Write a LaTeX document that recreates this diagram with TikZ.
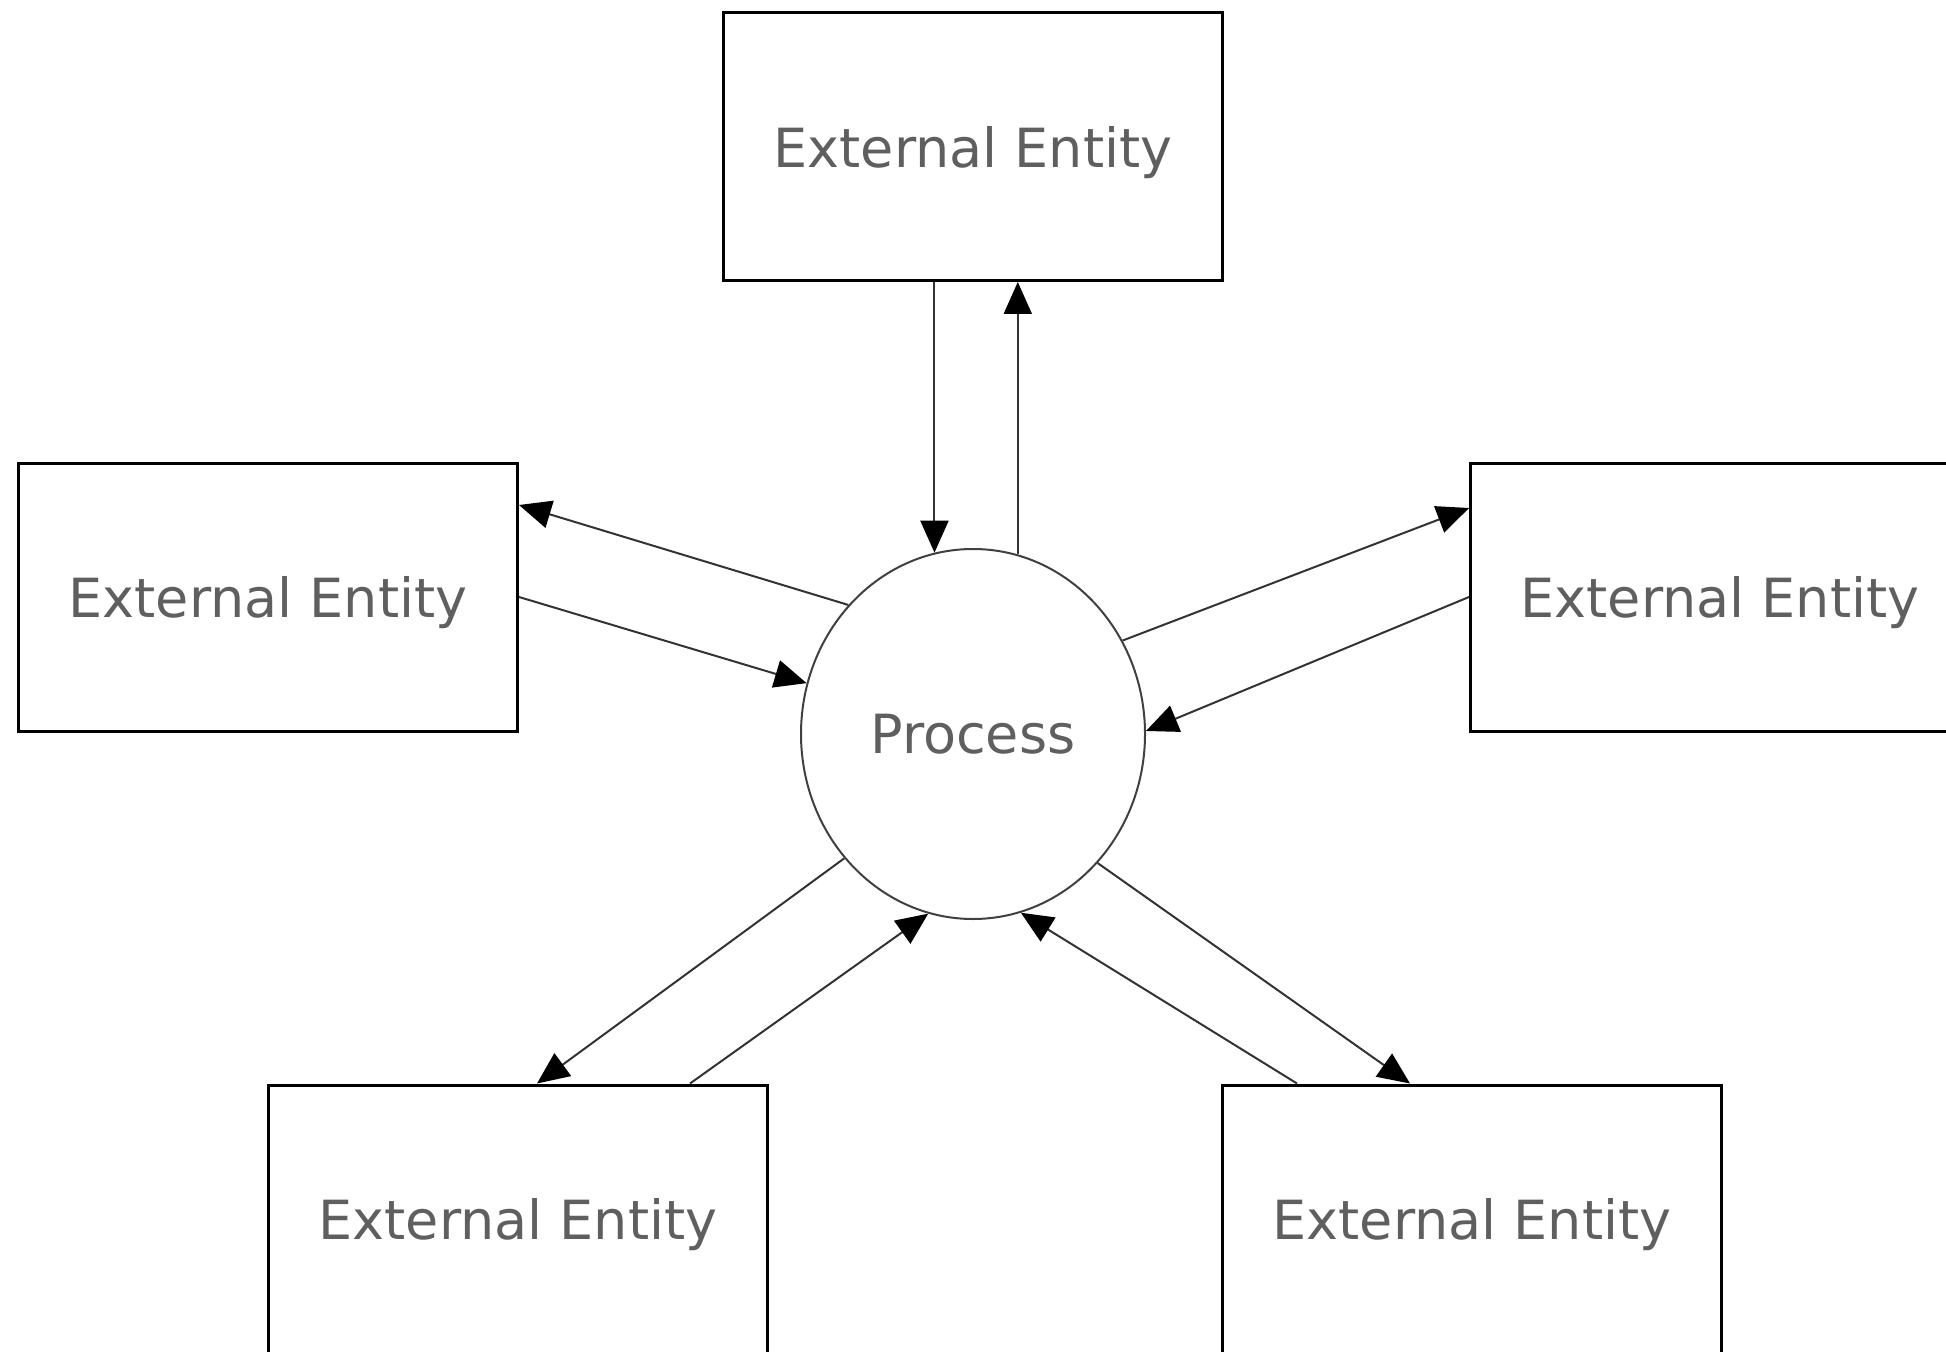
\documentclass[tikz,border=0pt]{standalone}
\usepackage{fontspec}
\setmainfont{DejaVu Sans}
\usepackage{xcolor}
\usepackage{tikz}
\usetikzlibrary{arrows.meta, shapes.geometric}
\definecolor{labelgray}{HTML}{5F5F5F}

\begin{document}
\begin{tikzpicture}[x=0.5pt, y=-0.5pt,
    entity/.style={rectangle, draw, line width=1.5pt, minimum width=249.5pt, minimum height=134pt, inner sep=0pt, text depth=0pt, text=labelgray, font=\fontsize{27}{32}\selectfont},
    process/.style={ellipse, draw=black!75, line width=1pt, minimum width=172pt, minimum height=185pt, inner sep=0pt, text=labelgray, font=\fontsize{27}{32}\selectfont},
    flow/.style={-{Triangle[length=16pt, width=14pt, color=black]}, line width=1pt, draw=black!80}]
    \useasboundingbox (0,0) rectangle (1946,1352);
    \clip (0,0) rectangle (1946,1352);

    \node[process] (proc) at (973,734) {Process};
    \node[entity] (top) at (973,146.5) {External Entity};
    \node[entity] (left) at (268,597) {External Entity};
    \node[entity] (right) at (1720,597) {External Entity};
    \node[entity] (bl) at (518,1219) {External Entity};
    \node[entity] (br) at (1472,1219) {External Entity};

    \draw[flow] (top.south -| proc.102) -- (proc.102);
    \draw[flow] (proc.76) -- (proc.76 |- top.south);
    \draw[flow] (proc.134) -- ([yshift=46pt]left.east);
    \draw[flow] (left.east) -- (proc.163);
    \draw[flow] (proc.32) -- ([yshift=44.5pt]right.west);
    \draw[flow] (right.west) -- (proc.1);
    \draw[flow] (proc.224) -- ([xshift=9.5pt]bl.north);
    \draw[flow] ([xshift=86pt]bl.north) -- (proc.256);
    \draw[flow] ([xshift=-87.5pt]br.north) -- (proc.285);
    \draw[flow] (proc.314) -- ([xshift=-31pt]br.north);
\end{tikzpicture}
\end{document}
